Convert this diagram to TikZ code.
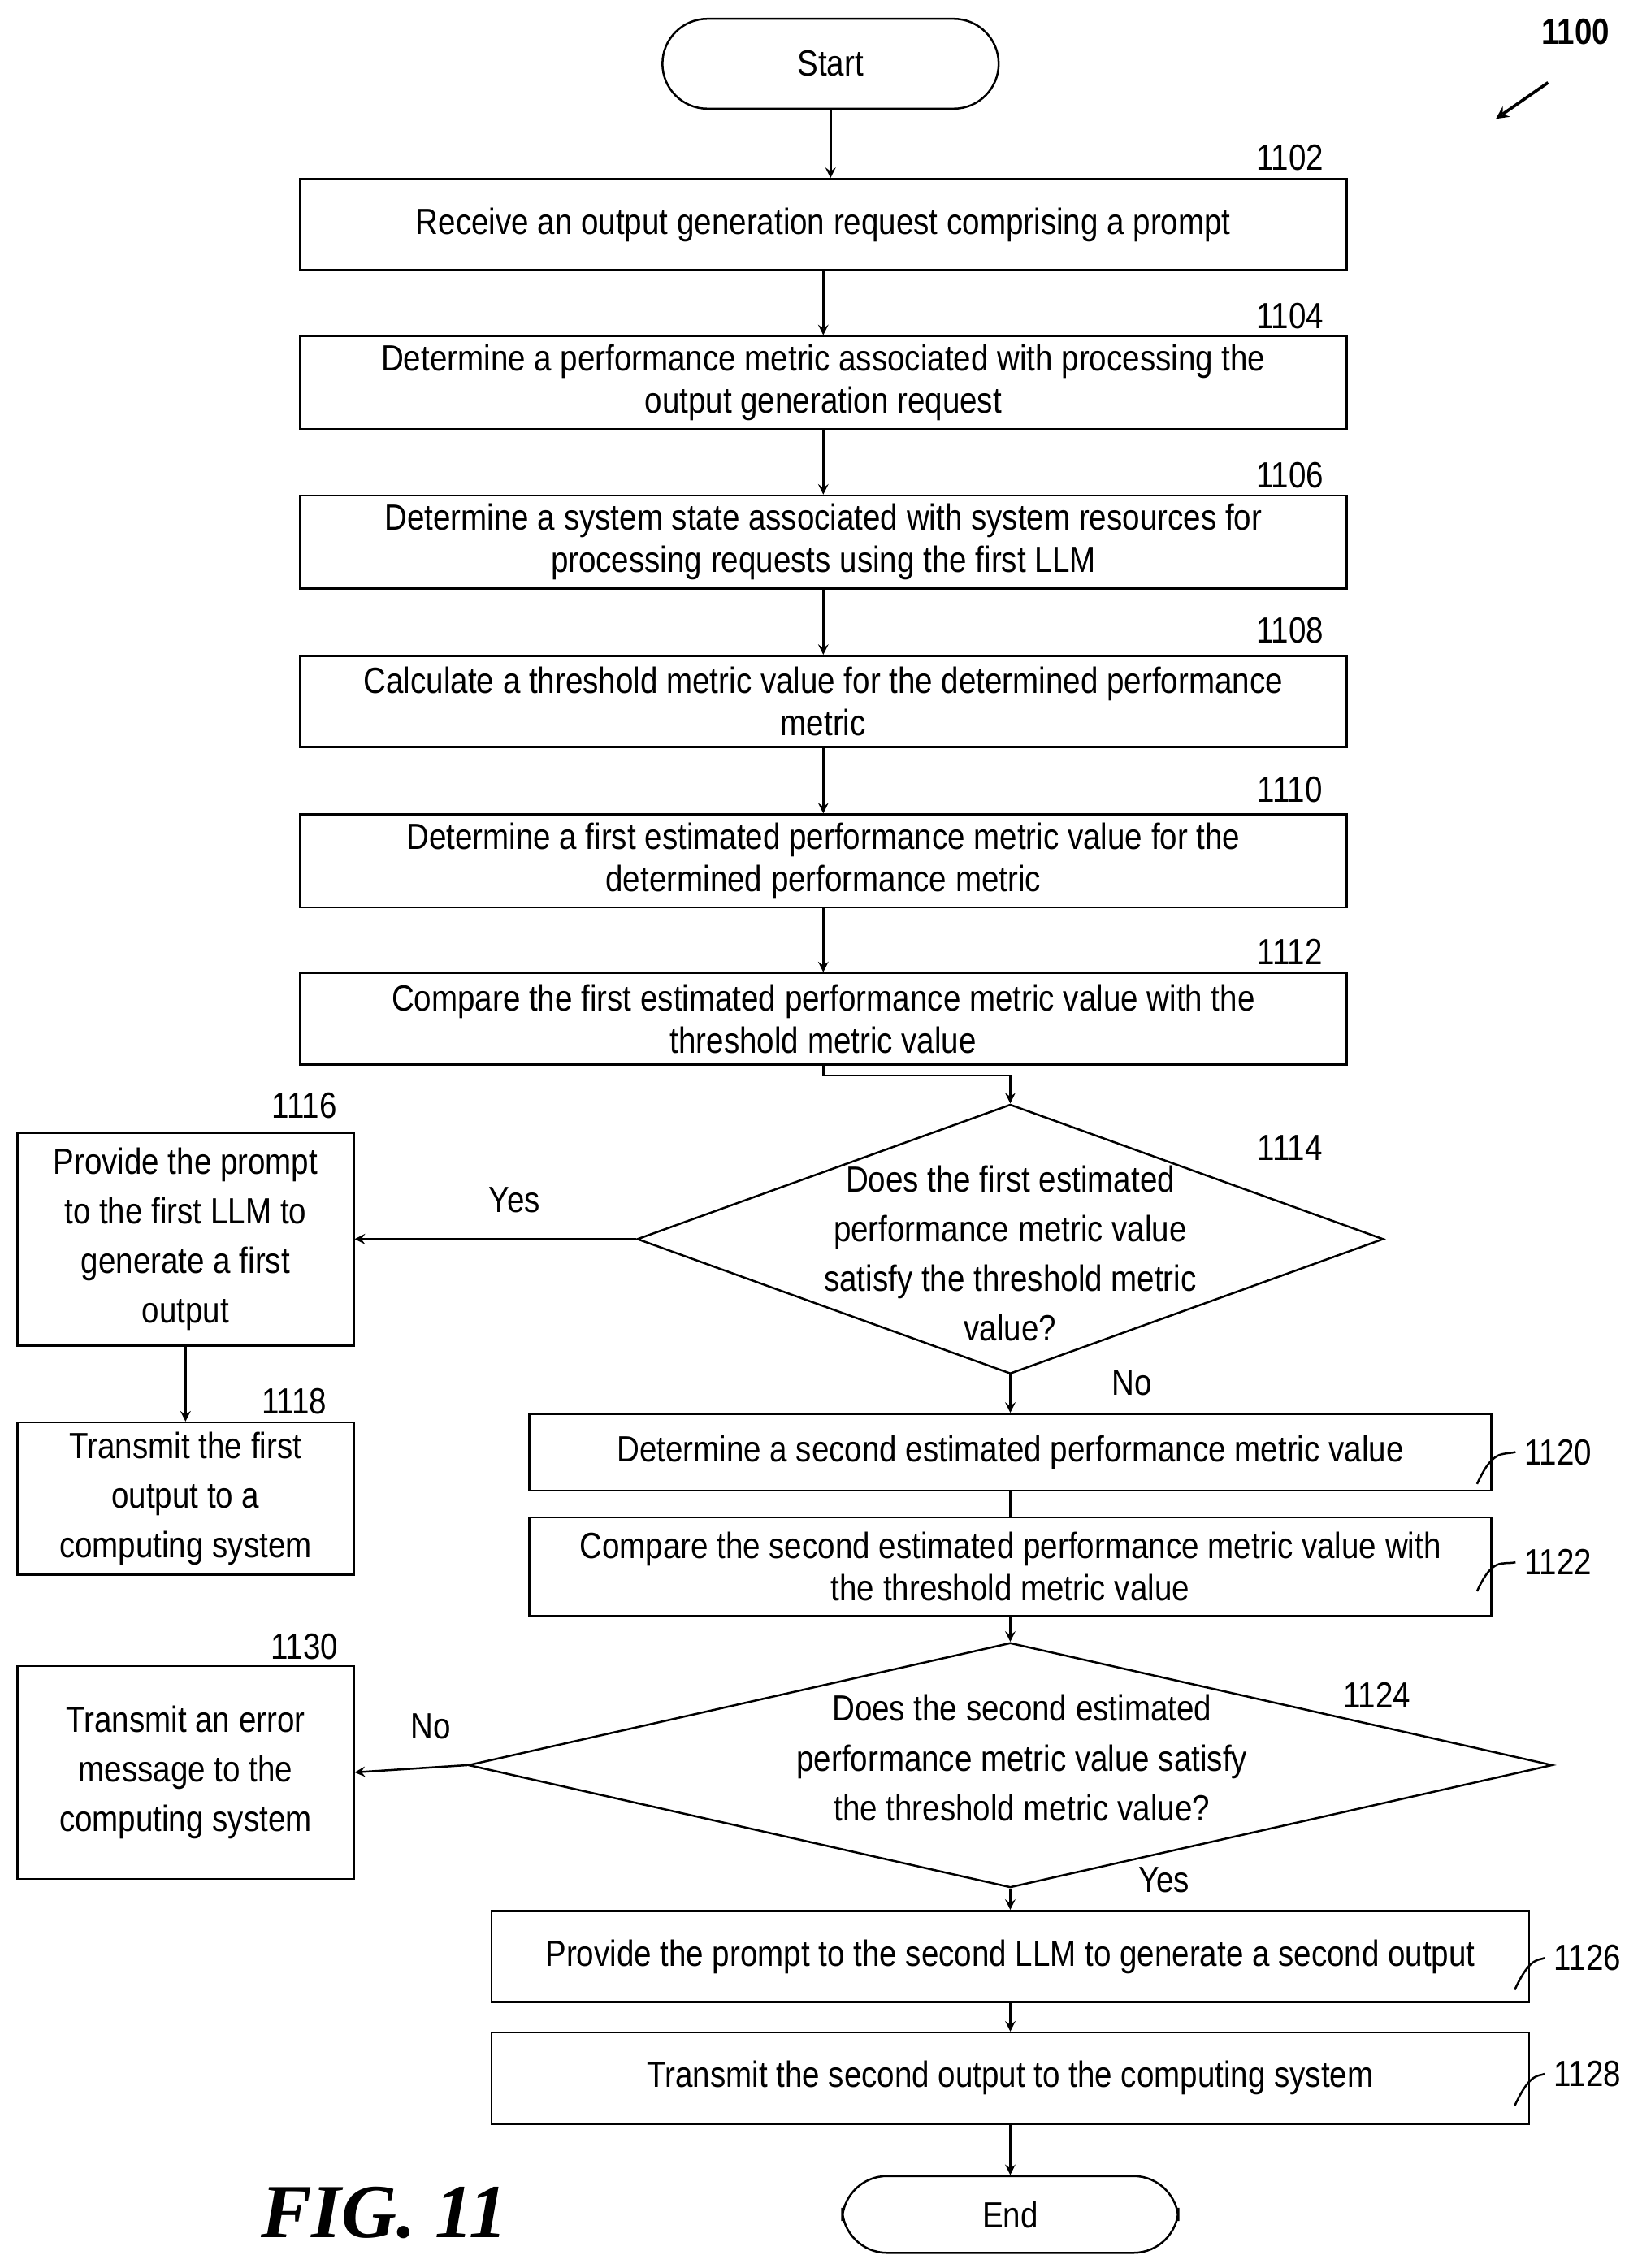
\documentclass[tikz,border=0pt]{standalone}
\usepackage{fontspec}
\setmainfont[FakeStretch=0.86]{Liberation Sans}
\newfontfamily\figfont{Liberation Serif}
\usetikzlibrary{shapes.geometric, arrows, positioning}
\tikzstyle{process}=
[
	rectangle
	,minimum height=1.26cm
	,text centered
	,draw=black
	,thick
	,font=\fontsize{14.3}{16.5}\selectfont
]
\tikzstyle{term}=
[
	rectangle
	,rounded corners=0.62cm
	,draw=black
	,thick
	,font=\fontsize{14.3}{16.5}\selectfont
]
\tikzstyle{decision}=
[
	diamond
	,draw=black
	,thick
	,inner sep=0pt
]
\tikzstyle{dtext}=[align=center,font=\fontsize{14.3}{19.5}\selectfont]
\tikzstyle{lbl}=[font=\fontsize{14.3}{16.5}\selectfont]
\tikzstyle{arrow} = [thick,->,>=stealth]
\tikzstyle{line} = [thick,-]

\begin{document}
\begin{tikzpicture}[x=0.02cm,y=-0.02cm]
\useasboundingbox (0,0) rectangle (1130,1565);
\node(start)[term,minimum width=4.64cm,minimum height=1.24cm] at (573,44) {Start};
\node(lab1100)[lbl,font=\fontsize{14.3}{16}\selectfont\bfseries] at (1087,22) {1100};
\coordinate(tip1100) at (1032,82);
\draw[arrow,line width=1.2pt](1068,57)--(tip1100);

\node(b1102)[process,minimum width=14.44cm] at (568,155) {Receive an output generation request comprising a prompt};
\node(b1104)[process,minimum width=14.44cm,align=center] at (568,264) {Determine a performance metric associated with processing the\\output generation request};
\node(b1106)[process,minimum width=14.44cm,align=center] at (568,374) {Determine a system state associated with system resources for\\processing requests using the first LLM};
\node(b1108)[process,minimum width=14.44cm,align=center] at (568,484) {Calculate a threshold metric value for the determined performance\\metric};
\node(b1110)[process,minimum width=14.44cm,align=center] at (568,594) {Determine a first estimated performance metric value for the\\determined performance metric};
\node(b1112)[process,minimum width=14.44cm,align=center] at (568,703) {Compare the first estimated performance metric value with the\\threshold metric value};
\node[lbl] at (890,109) {1102};
\node[lbl] at (890,218) {1104};
\node[lbl] at (890,328) {1106};
\node[lbl] at (890,435) {1108};
\node[lbl] at (890,545) {1110};
\node[lbl] at (890,657) {1112};

\node(d1114)[decision,minimum width=10.3cm,minimum height=3.72cm] at (697,855) {};
\node(t1114)[dtext] at (697,865) {Does the first estimated\\performance metric value\\satisfy the threshold metric\\value?};
\node[lbl] at (890,792) {1114};
\node(b1116)[process,minimum width=4.64cm,minimum height=2.94cm,align=center,font=\fontsize{14.3}{19.5}\selectfont] at (128,855) {Provide the prompt\\to the first LLM to\\generate a first\\output};
\node[lbl] at (210,763) {1116};
\node(b1118)[process,minimum width=4.64cm,minimum height=2.1cm,align=center,font=\fontsize{14.3}{19.5}\selectfont] at (128,1034) {Transmit the first\\output to a\\computing system};
\node[lbl] at (203,967) {1118};

\node(b1120)[process,minimum width=13.28cm,minimum height=1.06cm] at (697,1002) {Determine a second estimated performance metric value};
\node(b1122)[process,minimum width=13.28cm,minimum height=1.36cm,align=center] at (697,1081) {Compare the second estimated performance metric value with\\the threshold metric value};
\node(l1120)[lbl] at (1075,1002) {1120};
\node(l1122)[lbl] at (1075,1078) {1122};

\node(d1124)[decision,minimum width=14.96cm,minimum height=3.38cm] at (697,1218) {};
\node(t1124)[dtext] at (705,1213) {Does the second estimated\\performance metric value satisfy\\the threshold metric value?};
\node[lbl] at (950,1170) {1124};
\node(b1130)[process,minimum width=4.64cm,minimum height=2.94cm,align=center,font=\fontsize{14.3}{19.5}\selectfont] at (128,1223) {Transmit an error\\message to the\\computing system};
\node[lbl] at (210,1136) {1130};

\node(b1126)[process,minimum width=14.32cm] at (697,1350) {Provide the prompt to the second LLM to generate a second output};
\node(b1128)[process,minimum width=14.32cm] at (697,1434) {Transmit the second output to the computing system};
\node(l1126)[lbl] at (1095,1351) {1126};
\node(l1128)[lbl] at (1095,1431) {1128};

\node(end)[term,minimum width=4.64cm,minimum height=1.06cm] at (697,1528) {End};
\node(fig)[font=\fontsize{30}{34}\selectfont\figfont\bfseries\itshape] at (265,1527) {FIG. 11};
\node[lbl] at (355,828) {Yes};
\node[lbl] at (781,954) {No};
\node[lbl] at (297,1191) {No};
\node[lbl] at (803,1297) {Yes};

\draw[arrow](start.south)--(start.south|-b1102.north);
\draw[arrow](b1102)--(b1104);
\draw[arrow](b1104)--(b1106);
\draw[arrow](b1106)--(b1108);
\draw[arrow](b1108)--(b1110);
\draw[arrow](b1110)--(b1112);
\draw[arrow](b1112.south)--++(0,7)-|(d1114.north);
\draw[arrow](d1114.west)--(b1116.east);
\draw[arrow](b1116)--(b1118);
\draw[arrow](d1114.south)--(b1120.north);
\draw[line](b1120)--(b1122);
\draw[arrow](b1122.south)--(d1124.north);
\draw[arrow](d1124.west)--(b1130.east);
\draw[arrow](d1124.south)--(b1126.north);
\draw[arrow](b1126)--(b1128);
\draw[arrow](b1128)--(end);

% label leaders
\draw[line](1019,1024) .. controls (1030,1000) and (1036,1004) .. (l1120.west);
\draw[line](1019,1098) .. controls (1030,1074) and (1036,1080) .. (l1122.west);
\draw[line](1045,1373) .. controls (1056,1349) and (1062,1353) .. (l1126.west);
\draw[line](1045,1453) .. controls (1056,1429) and (1062,1433) .. (l1128.west);
\end{tikzpicture}
\end{document}
